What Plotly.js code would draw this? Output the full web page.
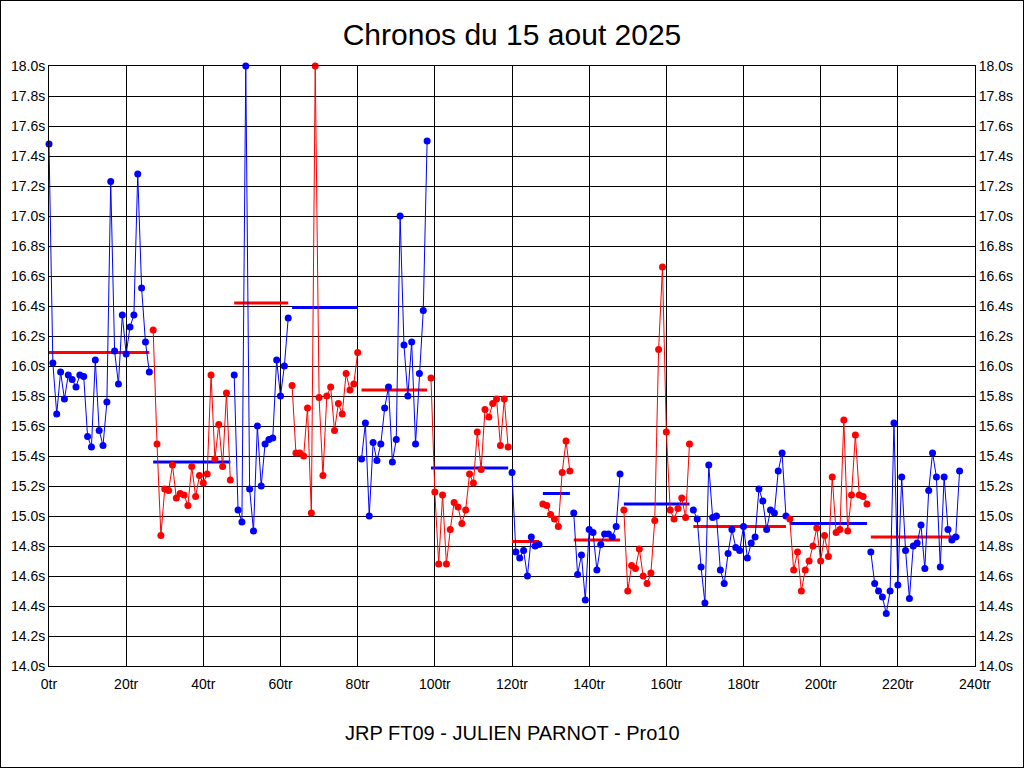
<!DOCTYPE html>
<html>
<head>
<meta charset="utf-8">
<script src="https://cdn.plot.ly/plotly-3.0.1.min.js"></script>
<style>
  html, body { margin: 0; padding: 0; background: #fff; }
  #chart { width: 1022px; height: 766px; border: 1px solid #000; }
</style>
</head>
<body>
<div id="chart"></div>
<script>
// Lap times (s), lap index = array position (0tr ... 236tr). 18.00 = value clipped at the top of the chart.
const lapTimes = [
  17.48, 16.02, 15.68, 15.96, 15.78, 15.94, 15.91, 15.86, 15.94, 15.93,
  15.53, 15.46, 16.04, 15.57, 15.47, 15.76, 17.23, 16.10, 15.88, 16.34,
  16.08, 16.26, 16.34, 17.28, 16.52, 16.16, 15.96, 16.24, 15.48, 14.87,
  15.18, 15.17, 15.34, 15.12, 15.15, 15.14, 15.07, 15.33, 15.13, 15.27,
  15.22, 15.28, 15.94, 15.38, 15.61, 15.33, 15.82, 15.24, 15.94, 15.04,
  14.96, 18.00, 15.18, 14.90, 15.60, 15.20, 15.48, 15.51, 15.52, 16.04,
  15.80, 16.00, 16.32, 15.87, 15.42, 15.42, 15.40, 15.72, 15.02, 18.00,
  15.79, 15.27, 15.80, 15.86, 15.57, 15.75, 15.68, 15.95, 15.84, 15.88,
  16.09, 15.38, 15.62, 15.00, 15.49, 15.37, 15.48, 15.72, 15.86, 15.36,
  15.51, 17.00, 16.14, 15.80, 16.16, 15.48, 15.95, 16.37, 17.50, 15.92,
  15.16, 14.68, 15.14, 14.68, 14.91, 15.09, 15.06, 14.95, 15.04, 15.28,
  15.22, 15.56, 15.31, 15.71, 15.66, 15.75, 15.78, 15.47, 15.78, 15.46,
  15.29, 14.76, 14.72, 14.77, 14.60, 14.86, 14.80, 14.81, 15.08, 15.07,
  15.01, 14.98, 14.93, 15.29, 15.50, 15.30, 15.02, 14.61, 14.74, 14.44,
  14.91, 14.89, 14.64, 14.81, 14.88, 14.88, 14.86, 14.93, 15.28, 15.04,
  14.50, 14.67, 14.65, 14.78, 14.60, 14.55, 14.62, 14.97, 16.11, 16.66,
  15.56, 15.04, 14.98, 15.05, 15.12, 14.99, 15.48, 15.04, 14.98, 14.66,
  14.42, 15.34, 14.99, 15.00, 14.64, 14.55, 14.75, 14.91, 14.79, 14.77,
  14.93, 14.72, 14.82, 14.86, 15.18, 15.10, 14.91, 15.04, 15.02, 15.30,
  15.42, 15.00, 14.98, 14.64, 14.76, 14.50, 14.64, 14.70, 14.80, 14.92,
  14.70, 14.87, 14.73, 15.26, 14.89, 14.91, 15.64, 14.90, 15.14, 15.54,
  15.14, 15.13, 15.08, 14.76, 14.55, 14.50, 14.46, 14.35, 14.50, 15.62,
  14.54, 15.26, 14.77, 14.45, 14.80, 14.82, 14.94, 14.65, 15.17, 15.42,
  15.26, 14.66, 15.26, 14.91, 14.84, 14.86, 15.30
];
// First lap of each stint
const stintStart = [0, 27, 48, 63, 81, 99, 120, 128, 136, 149, 167, 192, 213];
// Stint average lap time (s)
const stintMeans = [16.09, 15.36, 16.42, 16.39, 15.84, 15.32, 14.83, 15.15, 14.84, 15.08, 14.93, 14.95, 14.86];

const xTickVals = [0, 20, 40, 60, 80, 100, 120, 140, 160, 180, 200, 220, 240];

const BLUE = 'rgb(0,0,255)';
const RED = 'rgb(255,0,0)';
const FONT = 'Liberation Sans, Arial, sans-serif';

const meanTraces = [];
const lapTraces = [];
for (let i = 0; i < stintStart.length; i++) {
  const s = stintStart[i];
  const e = (i + 1 < stintStart.length ? stintStart[i + 1] : lapTimes.length) - 1;
  const xs = [], ys = [];
  for (let k = s; k <= e; k++) { xs.push(k); ys.push(lapTimes[k]); }
  const col = i % 2 === 0 ? BLUE : RED;
  const meanCol = i % 2 === 0 ? RED : BLUE;
  meanTraces.push({
    x: [s, e], y: [stintMeans[i], stintMeans[i]],
    mode: 'lines', line: { color: meanCol, width: 3 },
    hoverinfo: 'skip', cliponaxis: false
  });
  lapTraces.push({
    x: xs, y: ys, mode: 'lines+markers',
    line: { color: col, width: 1 },
    marker: { color: col, size: 7, symbol: 'circle' },
    cliponaxis: false
  });
}
const rightAxisTrace = {
  x: [0], y: [14], yaxis: 'y2', mode: 'markers',
  marker: { opacity: 0 }, hoverinfo: 'skip'
};

const axisCommon = {
  showgrid: true, gridcolor: '#000', gridwidth: 1,
  showline: true, linecolor: '#000', linewidth: 1,
  zeroline: false, ticks: '', fixedrange: true,
  tickfont: { family: FONT, size: 14, color: '#000' }
};

const layout = {
  width: 1022, height: 766,
  margin: { l: 48, r: 48, t: 65, b: 101 },
  paper_bgcolor: '#fff', plot_bgcolor: '#fff',
  showlegend: false,
  title: {
    text: 'Chronos du 15 aout 2025',
    x: 0.5, xanchor: 'center', y: 1 - 33 / 766, yanchor: 'middle',
    font: { family: FONT, size: 30, color: '#000' }
  },
  xaxis: Object.assign({}, axisCommon, {
    range: [0, 240], tickvals: xTickVals, ticktext: xTickVals.map(v => v + 'tr'),
    mirror: true, ticklabelstandoff: 5
  }),
  yaxis: Object.assign({}, axisCommon, {
    range: [14, 18], dtick: 0.2, tick0: 14, tickformat: '.1f', ticksuffix: 's',
    mirror: true
  }),
  yaxis2: Object.assign({}, axisCommon, {
    overlaying: 'y', side: 'right', matches: 'y',
    range: [14, 18], dtick: 0.2, tick0: 14, tickformat: '.1f', ticksuffix: 's',
    showgrid: false
  }),
  annotations: [{
    text: 'JRP FT09 - JULIEN PARNOT - Pro10',
    xref: 'paper', yref: 'paper', x: 0.5, y: -67 / 600,
    xanchor: 'center', yanchor: 'middle', showarrow: false,
    font: { family: FONT, size: 20, color: '#000' }
  }]
};

Plotly.newPlot('chart', meanTraces.concat(lapTraces, [rightAxisTrace]), layout,
  { staticPlot: true, displayModeBar: false });
</script>
</body>
</html>
